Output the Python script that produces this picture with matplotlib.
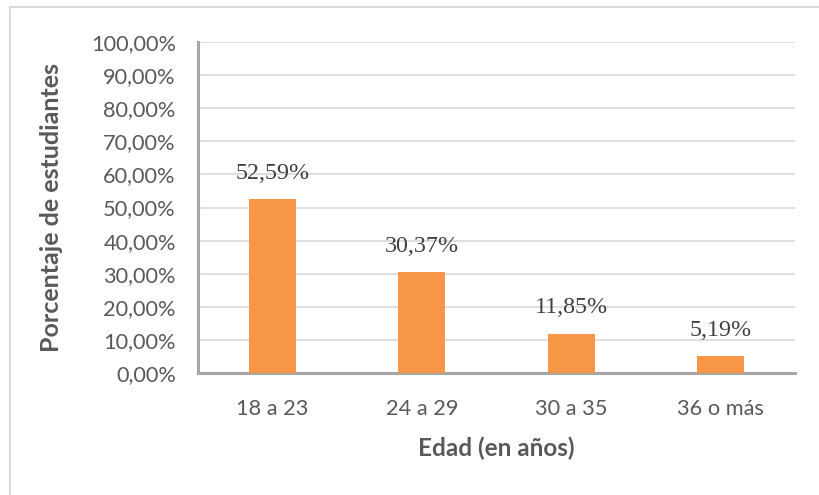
import matplotlib
matplotlib.use("Agg")
import matplotlib.pyplot as plt
from matplotlib.lines import Line2D

# Datos
categorias = ["18 a 23", "24 a 29", "30 a 35", "36 o más"]
porcentajes = [52.59, 30.37, 11.85, 5.19]
etiquetas = ["52,59%", "30,37%", "11,85%", "5,19%"]
ticks_y = [0, 10, 20, 30, 40, 50, 60, 70, 80, 90, 100]
ticks_y_txt = ["0,00%", "10,00%", "20,00%", "30,00%", "40,00%", "50,00%",
               "60,00%", "70,00%", "80,00%", "90,00%", "100,00%"]

fig = plt.figure(figsize=(8.2, 4.95), dpi=100)
ax = fig.add_axes([0.2415, 0.2465, 0.728, 0.6685])

x = range(len(categorias))
bars = ax.bar(x, porcentajes, width=0.315, color="#F79646", zorder=3)

for b, txt in zip(bars, etiquetas):
    ax.annotate(txt, (b.get_x() + b.get_width() / 2, b.get_height()),
                xytext=(0, 11), textcoords="offset points", ha="center", va="bottom",
                fontsize=17.3, family="Liberation Serif", color="#404040")

ax.set_xlim(-0.5, 3.5)
ax.set_ylim(0, 100)
ax.set_yticks(ticks_y)
ax.set_yticklabels(ticks_y_txt)
ax.set_xticks(list(x))
ax.set_xticklabels(categorias)
ax.tick_params(length=0, labelsize=15.7, labelcolor="#595959", pad=16)
ax.tick_params(axis="x", pad=19)
for lab in ax.get_xticklabels() + ax.get_yticklabels():
    lab.set_family("Lato")

ax.grid(axis="y", color="#D9D9D9", linewidth=1.2, zorder=0)
for s in ["top", "right"]:
    ax.spines[s].set_visible(False)
for s in ["left", "bottom"]:
    ax.spines[s].set_color("#A6A6A6")
    ax.spines[s].set_linewidth(2.2)

ax.set_ylabel("Porcentaje de estudiantes", fontsize=18, fontweight="bold",
              family="Lato", color="#595959", labelpad=20)
ax.set_xlabel("Edad (en años)", fontsize=17.5, fontweight="bold",
              family="Lato", color="#595959", labelpad=12)

# borde del área del gráfico
fig.add_artist(Line2D([0.0122, 0.0122], [0, 0.986], color="#D9D9D9", lw=1.5))
fig.add_artist(Line2D([0.0122, 1.0], [0.986, 0.986], color="#D9D9D9", lw=1.5))

fig.savefig("out.png", dpi=100)
